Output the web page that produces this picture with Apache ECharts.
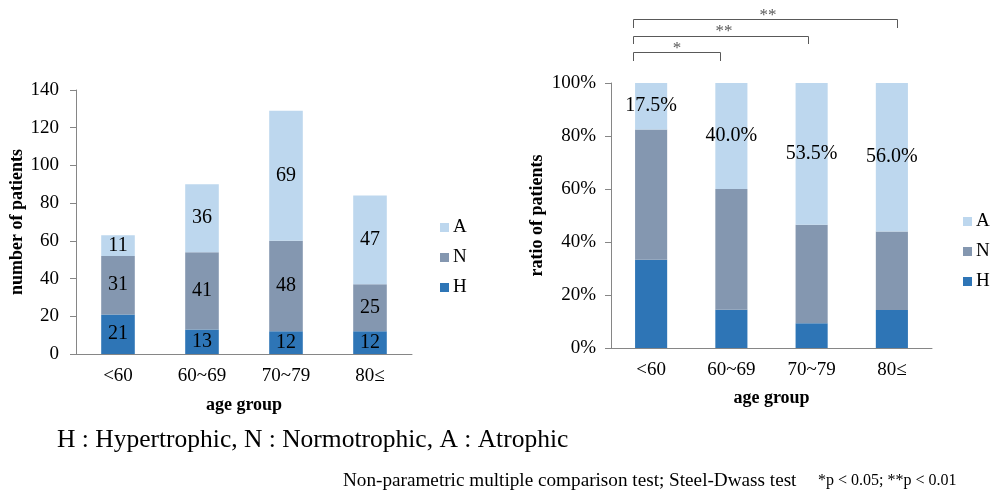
<!DOCTYPE html>
<html>
<head>
<meta charset="utf-8">
<script src="https://cdn.jsdelivr.net/npm/echarts@6/dist/echarts.min.js"></script>
<style>
html, body { margin: 0; padding: 0; background: #fff; }
#main { width: 990px; height: 491px; }
</style>
</head>
<body>
<div id="main"></div>
<script>
var ageGroups = ['<60', '60~69', '70~79', '80≤'];

// number of patients
var countH = [21, 13, 12, 12];
var countN = [31, 41, 48, 25];
var countA = [11, 36, 69, 47];

// ratio of patients (%)
var ratioH = [33.3, 14.4, 9.3, 14.3];
var ratioN = [49.2, 45.6, 37.2, 29.7];
var ratioA = [17.5, 40.0, 53.5, 56.0];

var colH = '#2E75B6', colN = '#8497B0', colA = '#BDD7EE';
var serif = 'Liberation Serif';
var axisGrey = '#868686';

var chart = echarts.init(document.getElementById('main'));

function catAxis(idx, gap) {
    return {
        type: 'category',
        gridIndex: idx,
        data: ageGroups,
        name: 'age group',
        nameLocation: 'middle',
        nameGap: gap,
        nameTextStyle: { fontFamily: serif, fontSize: 18, fontWeight: 'bold', color: '#000' },
        axisLine: { lineStyle: { color: axisGrey } },
        axisTick: { length: 6, lineStyle: { color: axisGrey } },
        axisLabel: { fontFamily: serif, fontSize: 19, color: '#000', margin: 13 }
    };
}

function valAxis(idx, max, name, gap, fmt, margin) {
    return {
        type: 'value',
        gridIndex: idx,
        min: 0,
        max: max,
        interval: 20,
        name: name,
        nameLocation: 'middle',
        nameRotate: 90,
        nameGap: gap,
        nameTextStyle: { fontFamily: serif, fontSize: 18, fontWeight: 'bold', color: '#000' },
        axisLine: { show: true, lineStyle: { color: axisGrey } },
        axisTick: { show: true, length: 6, lineStyle: { color: axisGrey } },
        splitLine: { show: false },
        axisLabel: { fontFamily: serif, fontSize: 19, color: '#000', margin: margin, formatter: fmt }
    };
}

function barSeries(name, data, color, idx, labelOn, fmt, size) {
    return {
        name: name,
        type: 'bar',
        stack: 'st' + idx,
        xAxisIndex: idx,
        yAxisIndex: idx,
        barWidth: '40%',
        data: data,
        itemStyle: { color: color },
        label: {
            show: labelOn,
            position: 'inside',
            fontFamily: serif,
            fontSize: size,
            color: '#000',
            formatter: fmt
        }
    };
}

function legendAt(left, top) {
    return {
        orient: 'vertical',
        left: left,
        top: top,
        icon: 'rect',
        itemWidth: 9,
        itemHeight: 9,
        itemGap: 11,
        data: ['A', 'N', 'H'],
        textStyle: { fontFamily: serif, fontSize: 19, color: '#000', padding: [0, 0, 0, -1] },
        selectedMode: false
    };
}

// significance brackets drawn as annotations
function bracket(x1, x2, y, yEnd, stars, sx, sy) {
    return [
        {
            type: 'polyline',
            shape: { points: [[x1, yEnd], [x1, y], [x2, y], [x2, yEnd]] },
            style: { stroke: '#595959', lineWidth: 1, fill: null }
        },
        {
            type: 'text',
            x: sx, y: sy,
            style: { text: stars, font: '17px "Liberation Serif"', fill: '#595959', align: 'center', verticalAlign: 'middle' }
        }
    ];
}

var graphics = []
    .concat(bracket(633.5, 720.5, 52.5, 61, '*', 677, 49))
    .concat(bracket(633.5, 808.5, 36.5, 44, '**', 724, 32))
    .concat(bracket(633.5, 897.5, 19.5, 28, '**', 768, 16));

graphics.push({
    type: 'text', left: 57, top: 427,
    style: { text: 'H : Hypertrophic, N : Normotrophic, A : Atrophic', font: '25.5px "Liberation Serif"', fill: '#000' }
});
graphics.push({
    type: 'text', left: 343, top: 471,
    style: { text: 'Non-parametric multiple comparison test; Steel-Dwass test', font: '19.2px "Liberation Serif"', fill: '#000' }
});
graphics.push({
    type: 'text', left: 818, top: 473,
    style: { text: '*p < 0.05; **p < 0.01', font: '16px "Liberation Serif"', fill: '#000' }
});

var option = {
    animation: false,
    textStyle: { fontFamily: serif },
    grid: [
        { left: 76, top: 90, width: 336, height: 264 },
        { left: 611, top: 83, width: 321, height: 265 }
    ],
    legend: [legendAt(435, 213), legendAt(958, 207)],
    xAxis: [catAxis(0, 42), catAxis(1, 41)],
    yAxis: [
        valAxis(0, 140, 'number of patients', 50, '{value}', 17),
        valAxis(1, 100, 'ratio of patients', 65, '{value}%', 15)
    ],
    series: [
        barSeries('H', countH, colH, 0, true, '{c}', 20),
        barSeries('N', countN, colN, 0, true, '{c}', 20),
        barSeries('A', countA, colA, 0, true, '{c}', 20),
        barSeries('H', ratioH, colH, 1, false, '{c}', 20),
        barSeries('N', ratioN, colN, 1, false, '{c}', 20),
        barSeries('A', ratioA, colA, 1, true, function (p) { return p.value.toFixed(1) + '%'; }, 20)
    ],
    graphic: graphics
};

chart.setOption(option);
</script>
</body>
</html>
